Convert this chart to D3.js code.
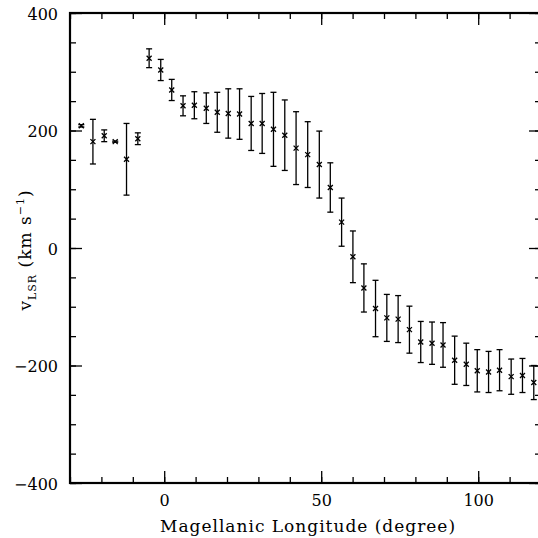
<!DOCTYPE html>
<html>
<head>
<meta charset="utf-8">
<script src="https://cdn.jsdelivr.net/npm/d3@7"></script>
<style>
  body { margin: 0; background: #fff; }
  svg { display: block; }
  text { font-family: "DejaVu Serif", serif; fill: #000; }
</style>
</head>
<body>
<svg id="chart" width="538" height="538"></svg>
<script>
//Magellanic longitude of each bin (degree)
var longitude = [-26.4, -22.7, -19.1, -15.6, -12.0, -8.4, -4.8, -1.1, 2.4, 6.0,
  9.6, 13.4, 16.9, 20.4, 24.0, 27.7, 31.2, 34.8, 38.4, 42.0,
  45.7, 49.4, 52.9, 56.5, 60.1, 63.6, 67.3, 70.9, 74.5, 78.1,
  81.7, 85.3, 88.8, 92.5, 96.2, 99.7, 103.3, 106.8, 110.5, 114.1, 117.7];
//LSR velocity (km/s)
var velocity = [208, 181, 191, 181, 151, 186, 323, 303, 269, 242,
  243, 238, 231, 229, 228, 212, 212, 202, 192, 170,
  159, 142, 103, 44, -15, -68, -103, -119, -121, -139,
  -160, -162, -165, -191, -198, -209, -211, -208, -219, -217, -229];
//half length of the error bars (km/s)
var velocityError = [2, 38, 10, 1, 61, 10, 16, 18, 18, 17,
  23, 26, 34, 42, 43, 46, 51, 63, 60, 62,
  56, 57, 42, 41, 44, 41, 48, 40, 40, 40,
  35, 36, 38, 41, 36, 36, 35, 35, 30, 29, 29];

var xMajorTicks = [0, 50, 100];
var xMinorTicks = d3.range(-30, 121, 10);
var yMajorTicks = [-400, -200, 0, 200, 400];
var yMinorTicks = d3.range(-400, 401, 50);

var xLabel = "Magellanic Longitude (degree)";

var svg = d3.select("svg#chart");

//Plot box (the right edge sits just past the window, like the original)
var plotLeft = 70, plotRight = 541, plotTop = 13, plotBottom = 483;

var x = d3.scaleLinear().domain([-30, 120]).range([plotLeft, plotRight]);
var y = d3.scaleLinear().domain([-400, 400]).range([plotBottom, plotTop]);

var fmt = function (d) { return d3.format("d")(d).replace("-", "\u2212"); };

//Ticks on all four sides, pointing inwards
function drawAxis(axis, tx, ty, showLabels) {
  var g = svg.append("g")
      .attr("transform", "translate(" + tx + "," + ty + ")")
      .call(axis);
  g.select(".domain").remove();
  g.selectAll(".tick line").attr("stroke", "#000").attr("stroke-width", 1.3);
  if (!showLabels) {
    g.selectAll(".tick text").remove();
  } else {
    g.selectAll(".tick text").style("font-size", "16px").attr("fill", "#000");
  }
  return g;
}

//bottom
drawAxis(d3.axisBottom(x).tickValues(xMinorTicks).tickSize(-6).tickFormat(""), 0, plotBottom, false);
drawAxis(d3.axisBottom(x).tickValues(xMajorTicks).tickSize(-12).tickPadding(12).tickFormat(fmt), 0, plotBottom, true);
//top
drawAxis(d3.axisTop(x).tickValues(xMinorTicks).tickSize(-6).tickFormat(""), 0, plotTop, false);
drawAxis(d3.axisTop(x).tickValues(xMajorTicks).tickSize(-12).tickFormat(""), 0, plotTop, false);
//left
drawAxis(d3.axisLeft(y).tickValues(yMinorTicks).tickSize(-6).tickFormat(""), plotLeft, 0, false);
var yAx = drawAxis(d3.axisLeft(y).tickValues(yMajorTicks).tickSize(-12).tickPadding(12).tickFormat(fmt), plotLeft, 0, true);
yAx.selectAll(".tick text").attr("dy", "0.4em");
//right
drawAxis(d3.axisRight(y).tickValues(yMinorTicks).tickSize(-6).tickFormat(""), plotRight, 0, false);
drawAxis(d3.axisRight(y).tickValues(yMajorTicks).tickSize(-12).tickFormat(""), plotRight, 0, false);

//Frame
svg.append("rect")
    .attr("x", plotLeft)
    .attr("y", plotTop)
    .attr("width", plotRight - plotLeft)
    .attr("height", plotBottom - plotTop)
    .attr("fill", "none")
    .attr("stroke", "#000")
    .attr("stroke-width", 2.2);

//Build point objects from the arrays
var points = longitude.map(function (d, i) {
  return { lon: d, v: velocity[i], e: velocityError[i] };
});

var capW = 3, mark = 2.5;

var node = svg.selectAll(".pt")
  .data(points)
  .enter().append("g")
    .attr("class", "pt")
    .attr("stroke", "#000")
    .attr("stroke-width", 1.3);

//vertical error bar
node.append("line")
    .attr("x1", function (d) { return x(d.lon); })
    .attr("x2", function (d) { return x(d.lon); })
    .attr("y1", function (d) { return y(d.v + d.e); })
    .attr("y2", function (d) { return y(d.v - d.e); });

//caps
node.append("line")
    .attr("x1", function (d) { return x(d.lon) - capW; })
    .attr("x2", function (d) { return x(d.lon) + capW; })
    .attr("y1", function (d) { return y(d.v + d.e); })
    .attr("y2", function (d) { return y(d.v + d.e); });
node.append("line")
    .attr("x1", function (d) { return x(d.lon) - capW; })
    .attr("x2", function (d) { return x(d.lon) + capW; })
    .attr("y1", function (d) { return y(d.v - d.e); })
    .attr("y2", function (d) { return y(d.v - d.e); });

//"x" marker
node.append("path")
    .attr("fill", "none")
    .attr("d", function (d) {
      var cx = x(d.lon), cy = y(d.v);
      return "M" + (cx - mark) + "," + (cy - mark) + "L" + (cx + mark) + "," + (cy + mark) +
             "M" + (cx - mark) + "," + (cy + mark) + "L" + (cx + mark) + "," + (cy - mark);
    });

//Axis titles
svg.append("text")
    .attr("x", 160)
    .attr("y", 532)
    .style("font-size", "17px")
    .style("letter-spacing", "1px")
    .text(xLabel);

var yTitle = svg.append("text")
    .attr("transform", "translate(31,250) rotate(-90)")
    .attr("text-anchor", "middle")
    .style("font-size", "17px")
    .style("letter-spacing", "1px");
yTitle.append("tspan").text("v");
yTitle.append("tspan").attr("dy", 5).style("font-size", "11px").text("LSR");
yTitle.append("tspan").attr("dy", -5).text(" (km s");
yTitle.append("tspan").attr("dy", -7).style("font-size", "11px").text("\u22121");
yTitle.append("tspan").attr("dy", 7).text(")");
</script>
</body>
</html>
